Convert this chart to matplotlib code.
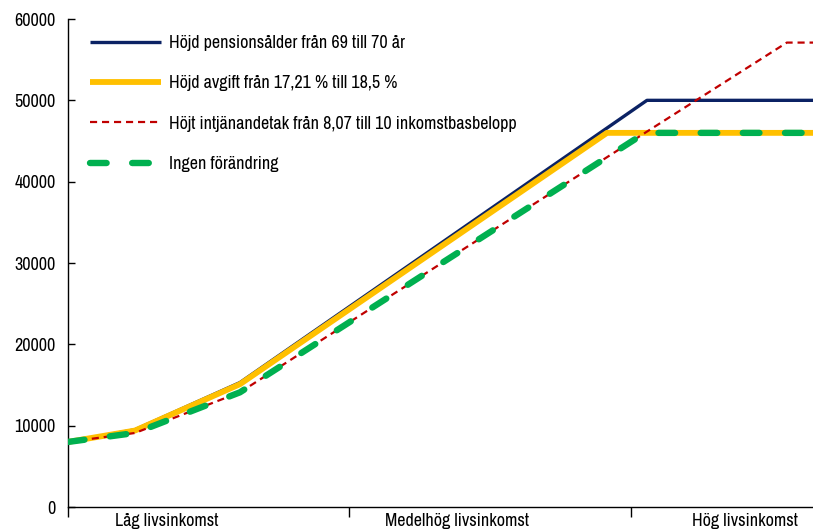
import matplotlib
matplotlib.use("Agg")
import matplotlib.pyplot as plt
from matplotlib.ticker import FixedLocator, NullFormatter

plt.rcParams['font.family'] = ['Archivo Narrow', 'DejaVu Sans']

# ---- data ----
series_labels = [
    "Höjd pensionsålder från 69 till 70 år",
    "Höjd avgift från 17,21 % till 18,5 %",
    "Höjt intjänandetak från 8,07 till 10 inkomstbasbelopp",
    "Ingen förändring",
]
x_blue = [0, 2.38, 6.11, 20.57, 26.47]
blue = [8000, 9500, 15300, 50000, 50000]
x_yellow = [0, 2.38, 6.11, 19.15, 26.47]
yellow = [8000, 9400, 15100, 46000, 46000]
x_red = [0, 2.38, 6.11, 20.5, 25.54, 26.47]
red = [8000, 9100, 14100, 46000, 57100, 57100]
x_green = [0, 2.38, 6.11, 20.5, 26.47]
green = [8000, 9100, 14100, 46000, 46000]

category_labels = ["Låg livsinkomst", "Medelhög livsinkomst", "Hög livsinkomst"]
category_label_pos = [3.52, 13.82, 24.05]
category_ticks = [0, 10, 20]
y_ticks = [0, 10000, 20000, 30000, 40000, 50000, 60000]

# ---- figure ----
fig = plt.figure(figsize=(8.13, 5.31), dpi=100)
ax = fig.add_axes([68/813, 24/531, 745/813, 488/531])

l1, = ax.plot(x_blue, blue, color="#0B2264", lw=2.4, solid_capstyle="butt", zorder=2)
l2, = ax.plot(x_yellow, yellow, color="#FFC000", lw=4.2, solid_capstyle="butt", zorder=3)
l3, = ax.plot(x_red, red, color="#C00000", lw=1.6, zorder=4)
l3.set_dashes((3.2, 2.2))
l4, = ax.plot(x_green, green, color="#00B050", lw=4.6, dash_capstyle="round", zorder=5)
l4.set_dashes((2.6, 4.0))

ax.set_xlim(0, 26.47)
ax.set_ylim(0, 60000)

ax.spines['top'].set_visible(False)
ax.spines['right'].set_visible(False)
for s in ('left', 'bottom'):
    ax.spines[s].set_linewidth(1.0)
    ax.spines[s].set_color("black")

ax.yaxis.set_major_locator(FixedLocator(y_ticks))
ax.set_yticklabels([str(v) for v in y_ticks])
ax.tick_params(axis='y', direction='in', length=5, width=1, labelsize=13, pad=9)

ax.xaxis.set_major_locator(FixedLocator(category_ticks))
ax.xaxis.set_major_formatter(NullFormatter())
ax.xaxis.set_minor_locator(FixedLocator(category_label_pos))
ax.set_xticklabels(category_labels, minor=True)
ax.tick_params(axis='x', which='major', direction='out', length=7, width=1)
ax.tick_params(axis='x', which='minor', length=0, labelsize=13, pad=4)

leg = ax.legend([l1, l2, l3, l4], series_labels, loc='upper left',
                bbox_to_anchor=(0.02, 0.982), frameon=False, fontsize=13,
                handlelength=3.9, handletextpad=0.45, labelspacing=1.35,
                borderaxespad=0.0)

fig.savefig("out.png", dpi=100)
